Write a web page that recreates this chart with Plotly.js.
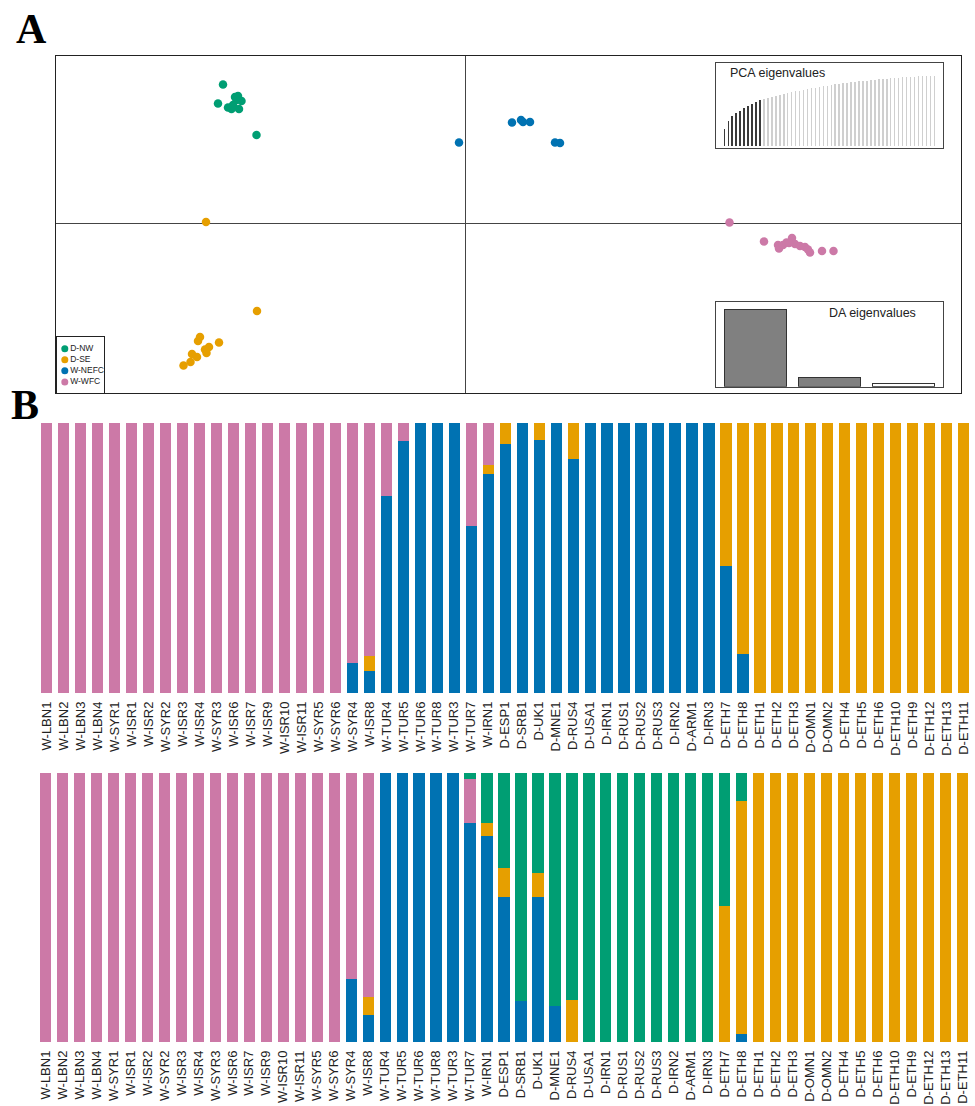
<!DOCTYPE html>
<html>
<head>
<meta charset="utf-8">
<script src="https://cdn.plot.ly/plotly-3.0.1.min.js"></script>
<style>html,body{margin:0;padding:0;background:#fff;}#chart{width:975px;height:1106px;}</style>
</head>
<body>
<div id="chart"></div>
<script>
// ---------- Panel A: DAPC scatter ----------
const groupNames = ["D-NW", "D-SE", "W-NEFC", "W-WFC"];
const groupColors = ["#009E73", "#E69F00", "#0072B2", "#CC79A7"];

const nwX = [-4.85, -4.95, -4.61, -4.55, -4.48, -4.75, -4.68, -4.53, -4.58, -4.65, -4.18];
const nwY = [2.78, 2.40, 2.53, 2.55, 2.45, 2.32, 2.29, 2.29, 2.47, 2.37, 1.77];
const seX = [-5.19, -4.17, -5.31, -5.35, -4.93, -5.13, -5.21, -5.18, -5.37, -5.47, -5.50, -5.64];
const seY = [0.03, -1.75, -2.27, -2.35, -2.38, -2.47, -2.52, -2.59, -2.67, -2.61, -2.77, -2.84];
const nefcX = [-0.13, 0.93, 1.11, 1.15, 1.29, 1.79, 1.89];
const nefcY = [1.62, 2.02, 2.07, 2.03, 2.03, 1.62, 1.61];
const wfcX = [5.28, 5.97, 6.25, 6.27, 6.35, 6.42, 6.53, 6.59, 6.69, 6.79, 6.89, 6.85, 7.13, 7.36, 6.47];
const wfcY = [0.02, -0.36, -0.43, -0.50, -0.43, -0.38, -0.29, -0.41, -0.45, -0.47, -0.58, -0.52, -0.55, -0.55, -0.39];

// PCA eigenvalues inset (cumulative variance, %), first 10 retained
const pcaCum = [23.3, 35.7, 41.9, 46.7, 50.0, 53.3, 56.2, 59.5, 62.4, 64.8,
  66.2, 68.1, 69.5, 71.0, 72.4, 73.8, 75.2, 76.2, 77.6, 78.6,
  80.0, 81.0, 81.9, 82.9, 83.8, 84.8, 85.7, 86.7, 87.6, 88.1,
  89.0, 89.5, 90.5, 91.0, 91.9, 92.4, 92.9, 93.3, 94.3, 94.8,
  95.2, 95.7, 96.2, 96.7, 97.1, 97.6, 97.6, 98.1, 98.6, 99.0,
  99.0, 99.5, 100, 100];
const pcaRetained = 10;

// DA eigenvalues inset
const daEig = [100, 10.8, 3.9];
const daRetained = 2;

// ---------- Panel B: membership probabilities ----------
const samples = ["W-LBN1","W-LBN2","W-LBN3","W-LBN4","W-SYR1","W-ISR1","W-ISR2","W-SYR2","W-ISR3","W-ISR4",
  "W-SYR3","W-ISR6","W-ISR7","W-ISR9","W-ISR10","W-ISR11","W-SYR5","W-SYR6","W-SYR4","W-ISR8",
  "W-TUR4","W-TUR5","W-TUR6","W-TUR8","W-TUR3","W-TUR7","W-IRN1","D-ESP1","D-SRB1","D-UK1",
  "D-MNE1","D-RUS4","D-USA1","D-IRN1","D-RUS1","D-RUS2","D-RUS3","D-IRN2","D-ARM1","D-IRN3",
  "D-ETH7","D-ETH8","D-ETH1","D-ETH2","D-ETH3","D-OMN1","D-OMN2","D-ETH4","D-ETH5","D-ETH6",
  "D-ETH10","D-ETH9","D-ETH12","D-ETH13","D-ETH11"];

// K = 3 (top row)
const topBlue = [0,0,0,0,0,0,0,0,0,0, 0,0,0,0,0,0,0,0,0.111,0.083,
  0.73,0.933,1,1,1,0.619,0.812,0.921,1,0.936, 1,0.868,1,1,1,1,1,1,1,1,
  0.469,0.145,0,0,0,0,0,0,0,0, 0,0,0,0,0];
const topOrange = [0,0,0,0,0,0,0,0,0,0, 0,0,0,0,0,0,0,0,0,0.053,
  0,0,0,0,0,0,0.033,0.079,0,0.064, 0,0.132,0,0,0,0,0,0,0,0,
  0.531,0.855,1,1,1,1,1,1,1,1, 1,1,1,1,1];
const topPink = [1,1,1,1,1,1,1,1,1,1, 1,1,1,1,1,1,1,1,0.889,0.864,
  0.27,0.067,0,0,0,0.381,0.155,0,0,0, 0,0,0,0,0,0,0,0,0,0,
  0,0,0,0,0,0,0,0,0,0, 0,0,0,0,0];

// K = 4 (bottom row)
const botBlue = [0,0,0,0,0,0,0,0,0,0, 0,0,0,0,0,0,0,0,0.236,0.099,
  1,1,1,1,1,0.816,0.764,0.540,0.152,0.540, 0.134,0,0,0,0,0,0,0,0,0,
  0,0.031,0,0,0,0,0,0,0,0, 0,0,0,0,0];
const botOrange = [0,0,0,0,0,0,0,0,0,0, 0,0,0,0,0,0,0,0,0,0.068,
  0,0,0,0,0,0,0.052,0.106,0,0.089, 0,0.158,0,0,0,0,0,0,0,0,
  0.506,0.866,1,1,1,1,1,1,1,1, 1,1,1,1,1];
const botPink = [1,1,1,1,1,1,1,1,1,1, 1,1,1,1,1,1,1,1,0.764,0.833,
  0,0,0,0,0,0.161,0,0,0,0, 0,0,0,0,0,0,0,0,0,0,
  0,0,0,0,0,0,0,0,0,0, 0,0,0,0,0];
const botGreen = [0,0,0,0,0,0,0,0,0,0, 0,0,0,0,0,0,0,0,0,0,
  0,0,0,0,0,0.023,0.184,0.354,0.848,0.371, 0.866,0.842,1,1,1,1,1,1,1,1,
  0.494,0.103,0,0,0,0,0,0,0,0, 0,0,0,0,0];

// ---------- build ----------
const W = 975, H = 1106;
const px = v => v / W;
const py = v => 1 - v / H;
const textFont = {family: "Liberation Sans, Arial, sans-serif", color: "#222"};

const traces = [];
const scatterSets = [[nwX, nwY], [seX, seY], [nefcX, nefcY], [wfcX, wfcY]];
scatterSets.forEach((s, i) => {
  traces.push({type: "scatter", mode: "markers", x: s[0], y: s[1], name: groupNames[i],
    marker: {color: groupColors[i], size: 8.5}, xaxis: "x", yaxis: "y", showlegend: false, hoverinfo: "skip"});
});

// legend drawn as a small boxed subplot
traces.push({type: "scatter", mode: "markers+text", x: groupNames.map(() => 0), y: groupNames.map((_, i) => i),
  text: groupNames, textposition: "middle right", textfont: Object.assign({size: 8.5}, textFont),
  marker: {color: groupColors, size: 7}, xaxis: "x6", yaxis: "y6", showlegend: false, hoverinfo: "skip", cliponaxis: false});

const pcaIdx = pcaCum.map((_, i) => i + 1);
traces.push({type: "bar", x: pcaIdx, y: pcaCum, xaxis: "x2", yaxis: "y2", width: 0.38,
  marker: {color: pcaCum.map((_, i) => i < pcaRetained ? "#3a3a3a" : "#cfcfcf")}, showlegend: false, hoverinfo: "skip"});

traces.push({type: "bar", x: daEig.map((_, i) => i + 1), y: daEig, xaxis: "x3", yaxis: "y3", width: 0.835,
  marker: {color: daEig.map((_, i) => i < daRetained ? "#808080" : "#ffffff"), line: {color: "#333", width: 1}},
  showlegend: false, hoverinfo: "skip"});

const topSeries = [[topBlue, "#0072B2"], [topOrange, "#E69F00"], [topPink, "#CC79A7"]];
topSeries.forEach(s => traces.push({type: "bar", x: samples, y: s[0], xaxis: "x4", yaxis: "y4",
  marker: {color: s[1], line: {width: 0}}, showlegend: false, hoverinfo: "skip"}));
const botSeries = [[botBlue, "#0072B2"], [botOrange, "#E69F00"], [botPink, "#CC79A7"], [botGreen, "#009E73"]];
botSeries.forEach(s => traces.push({type: "bar", x: samples, y: s[0], xaxis: "x5", yaxis: "y5",
  marker: {color: s[1], line: {width: 0}}, showlegend: false, hoverinfo: "skip"}));

const hidden = {showgrid: false, zeroline: false, showticklabels: false, ticks: ""};
const boxed = c => ({showline: true, mirror: true, linecolor: c, linewidth: 1});

const catAxis = (dom) => Object.assign({}, {
  domain: dom, type: "category", range: [-0.5, 54.5], showgrid: false, zeroline: false,
  ticks: "", tickangle: -90, ticklabelstandoff: 5, tickfont: Object.assign({size: 13}, textFont),
  showline: false, automargin: false, fixedrange: true
});

const layout = {
  width: W, height: H, margin: {l: 0, r: 0, t: 0, b: 0},
  paper_bgcolor: "#fff", plot_bgcolor: "rgba(0,0,0,0)",
  barmode: "stack", bargap: 0.34, showlegend: false,
  xaxis: Object.assign({domain: [px(56), px(961)], range: [-8.19, 9.91], zeroline: true,
    zerolinecolor: "#444", zerolinewidth: 1, showgrid: false, showticklabels: false, ticks: ""}, boxed("#222")),
  yaxis: Object.assign({domain: [py(393), py(56)], range: [-3.39, 3.35], zeroline: true,
    zerolinecolor: "#444", zerolinewidth: 1, showgrid: false, showticklabels: false, ticks: ""}, boxed("#222")),
  xaxis2: Object.assign({}, hidden, boxed("#444"), {domain: [px(716), px(943)], range: [-1.1, 56.2], anchor: "y2"}),
  yaxis2: Object.assign({}, hidden, boxed("#444"), {domain: [py(148.3), py(62.7)], range: [-3.7, 118.6], anchor: "x2"}),
  xaxis3: Object.assign({}, hidden, boxed("#444"), {domain: [px(716), px(943)], range: [0.47, 3.53], anchor: "y3"}),
  yaxis3: Object.assign({}, hidden, boxed("#444"), {domain: [py(386.7), py(301.7)], range: [-0.9, 110], anchor: "x3"}),
  xaxis4: Object.assign(catAxis([px(38.2), px(972.2)]), {anchor: "y4"}),
  yaxis4: Object.assign({}, hidden, {domain: [py(693), py(423)], range: [0, 1], anchor: "x4"}),
  xaxis5: Object.assign(catAxis([px(37), px(971)]), {anchor: "y5"}),
  yaxis5: Object.assign({}, hidden, {domain: [py(1042), py(773)], range: [0, 1], anchor: "x5"}),
  xaxis6: Object.assign({}, hidden, boxed("#222"), {domain: [px(56.5), px(104.3)], range: [-8.3, 39.5], anchor: "y6"}),
  yaxis6: Object.assign({}, hidden, boxed("#222"), {domain: [py(392.5), py(337)], range: [3.95, -1.05], anchor: "x6"}),
  annotations: [
    {text: "<b>A</b>", xref: "paper", yref: "paper", x: px(14), y: py(4), xanchor: "left", yanchor: "top",
      showarrow: false, font: {family: "Liberation Serif, Times New Roman, serif", size: 42, color: "#000"}},
    {text: "<b>B</b>", xref: "paper", yref: "paper", x: px(9), y: py(380), xanchor: "left", yanchor: "top",
      showarrow: false, font: {family: "Liberation Serif, Times New Roman, serif", size: 42, color: "#000"}},
    {text: "PCA eigenvalues", xref: "paper", yref: "paper", x: px(728), y: py(73), xanchor: "left", yanchor: "middle",
      showarrow: false, font: Object.assign({size: 12.5}, textFont)},
    {text: "DA eigenvalues", xref: "paper", yref: "paper", x: px(827), y: py(313), xanchor: "left", yanchor: "middle",
      showarrow: false, font: Object.assign({size: 12.5}, textFont)}
  ]
};

Plotly.newPlot("chart", traces, layout, {staticPlot: true, displayModeBar: false});
</script>
</body>
</html>
